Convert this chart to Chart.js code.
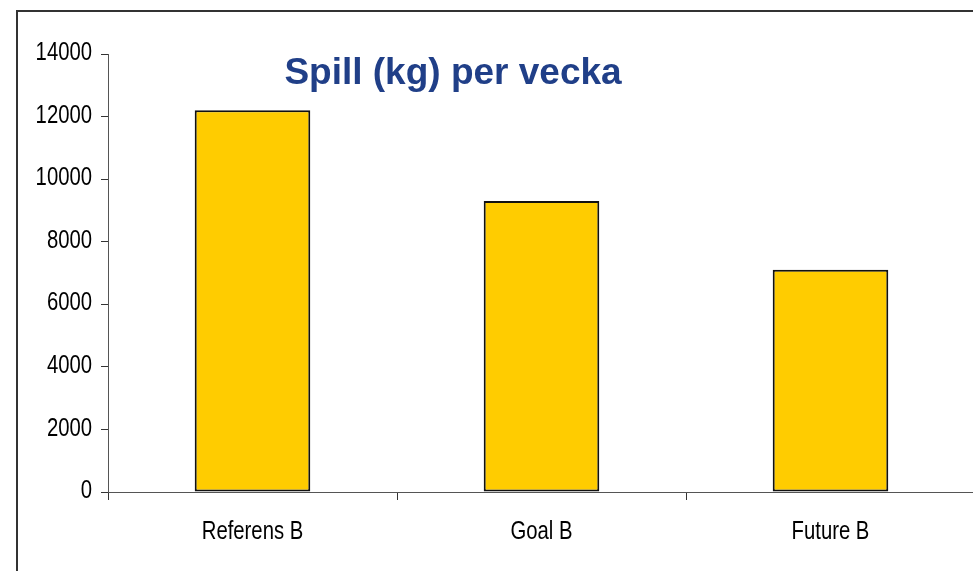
<!DOCTYPE html>
<html>
<head>
<meta charset="utf-8">
<script src="https://cdn.jsdelivr.net/npm/chart.js@4"></script>
<style>
    html, body { margin: 0; padding: 0; background: #fff; overflow: hidden; }
    #frame {
        position: absolute; left: 16px; top: 10px;
        width: 1000px; height: 600px;
        border-left: 2px solid #333; border-top: 2px solid #333;
    }
    #wrap { position: absolute; left: 0; top: 0; width: 976px; height: 571px; }
</style>
</head>
<body>
<div id="frame"></div>
<div id="wrap"><canvas id="spillChart"></canvas></div>
<script>
const categories = ['Referens B', 'Goal B', 'Future B'];
const spillKg = [12200, 9300, 7100];
const yTicks = [0, 2000, 4000, 6000, 8000, 10000, 12000, 14000];
const chartTitle = 'Spill (kg) per vecka';

const labelFont = '26px "Liberation Sans", Arial, sans-serif';
const squeeze = 0.78; // the original tick labels are horizontally compressed

function drawSqueezed(ctx, text, x, y, align, baseline) {
    ctx.save();
    ctx.translate(x, y);
    ctx.scale(squeeze, 1);
    ctx.font = labelFont;
    ctx.fillStyle = '#000';
    ctx.textAlign = align;
    ctx.textBaseline = baseline;
    ctx.fillText(text, 0, 0);
    ctx.restore();
}

// tick labels drawn from the library's own scales, then the title inside the plot
const labelPlugin = {
    id: 'squeezedLabels',
    afterDraw(chart) {
        const ctx = chart.ctx;
        const xs = chart.scales.x;
        const ys = chart.scales.y;
        yTicks.forEach(v => {
            drawSqueezed(ctx, String(v), ys.right - 16, ys.getPixelForValue(v) - 1, 'right', 'middle');
        });
        categories.forEach((c, i) => {
            drawSqueezed(ctx, c, xs.getPixelForValue(i), xs.top + 47, 'center', 'alphabetic');
        });

        ctx.save();
        ctx.font = 'bold 37px "Liberation Sans", Arial, sans-serif';
        ctx.fillStyle = '#203F88';
        ctx.textAlign = 'center';
        ctx.textBaseline = 'alphabetic';
        ctx.fillText(chartTitle, 453, 84);
        ctx.restore();
    }
};

function renderChart() {
    const ctx = document.getElementById('spillChart').getContext('2d');
    new Chart(ctx, {
        type: 'bar',
        data: {
            labels: categories,
            datasets: [{
                data: spillKg,
                backgroundColor: '#FFCC00',
                borderColor: '#111',
                borderWidth: 2,
                borderSkipped: false,
                barPercentage: 0.4,
                categoryPercentage: 1
            }]
        },
        options: {
            responsive: true,
            maintainAspectRatio: false,
            animation: false,
            layout: { padding: { top: 54, right: 1, left: 0, bottom: 0 } },
            plugins: {
                legend: { display: false },
                tooltip: { enabled: false },
                title: { display: false }
            },
            scales: {
                x: {
                    offset: true,
                    grid: { offset: true, drawOnChartArea: false, drawTicks: true, tickLength: 8, color: '#333' },
                    border: { display: true, color: '#555', width: 1 },
                    ticks: { color: 'rgba(0,0,0,0)', font: { size: 26 }, padding: 14 },
                    afterFit(scale) { scale.height = 79; }
                },
                y: {
                    min: 0,
                    max: 14000,
                    afterBuildTicks(scale) { scale.ticks = yTicks.map(v => ({ value: v })); },
                    grid: { drawOnChartArea: false, drawTicks: true, tickLength: 7, color: '#333' },
                    border: { display: true, color: '#555', width: 1 },
                    ticks: { color: 'rgba(0,0,0,0)', font: { size: 26 }, padding: 9, callback: v => String(v) },
                    afterFit(scale) { scale.width = 108; }
                }
            }
        },
        plugins: [labelPlugin]
    });
}

renderChart();
</script>
</body>
</html>
